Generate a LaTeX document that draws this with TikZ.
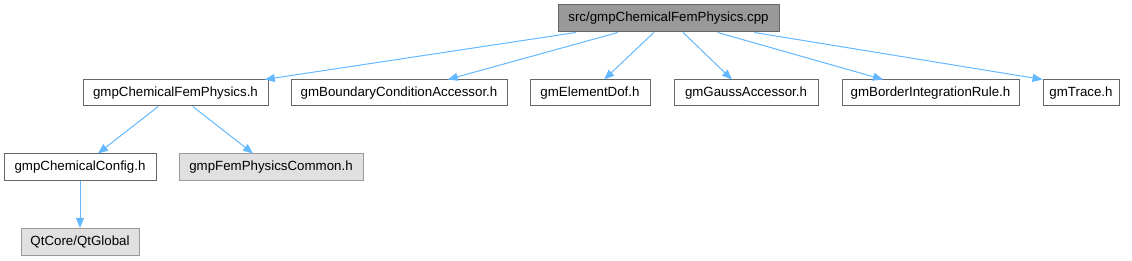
\documentclass[tikz,border=0pt]{standalone}
\usepackage{fontspec}
\setmainfont{Liberation Sans}
\usetikzlibrary{arrows.meta}
\definecolor{edgec}{HTML}{63B8FF}
\definecolor{bord}{HTML}{666666}
\definecolor{gbord}{HTML}{999999}
\definecolor{gfill}{HTML}{E0E0E0}
\definecolor{rootfill}{HTML}{999999}
\tikzset{
  box/.style={draw=bord, fill=white, line width=1pt, minimum height=26pt, inner sep=0pt, font=\fontsize{13.3}{16}\selectfont},
  graybox/.style={box, draw=gbord, fill=gfill},
  rootbox/.style={box, fill=rootfill},
  edge/.style={draw=edgec, line width=1pt, -{Triangle[length=10pt,width=8pt]}}
}
\begin{document}
\begin{tikzpicture}[x=1pt,y=-1pt]
\useasboundingbox (0,0) rectangle (1132,261);
\node[rootbox, minimum width=221pt, minimum height=27pt] (root) at (668.5,18.5) {src/gmpChemicalFemPhysics.cpp};
\node[box, minimum width=185pt] (n1) at (175.5,93) {gmpChemicalFemPhysics.h};
\node[box, minimum width=216pt] (n2) at (399,93) {gmBoundaryConditionAccessor.h};
\node[box, minimum width=120pt] (n3) at (590,93) {gmElementDof.h};
\node[box, minimum width=144pt] (n4) at (746,93) {gmGaussAccessor.h};
\node[box, minimum width=177pt] (n5) at (930.5,93) {gmBorderIntegrationRule.h};
\node[box, minimum width=76pt] (n6) at (1081,93) {gmTrace.h};
\node[box, minimum width=152pt, minimum height=27pt] (n7) at (80,167.5) {gmpChemicalConfig.h};
\node[graybox, minimum width=184pt, minimum height=27pt] (n8) at (271,167.5) {gmpFemPhysicsCommon.h};
\node[graybox, minimum width=118pt, minimum height=27pt] (n9) at (80,242) {QtCore/QtGlobal};
\foreach \t in {n1,n2,n3,n4,n5} \draw[edge] (root) -- (\t);
\draw[edge] (root) -- (n6.north west);
\draw[edge] (n1) -- (n7);
\draw[edge] (n1) -- (n8);
\draw[edge] (n7) -- (n9);
\end{tikzpicture}
\end{document}
